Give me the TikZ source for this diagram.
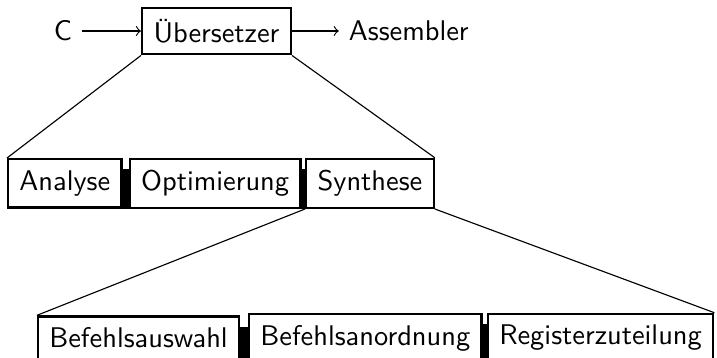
\documentclass[tikz,border=0pt]{standalone}
\usetikzlibrary{positioning}

\begin{document}
\begin{tikzpicture}[font=\sffamily,
    stage/.style={draw, thick, inner sep=4pt}]
    \def\W{252.2pt}
    \def\H{125.6pt}
    \useasboundingbox (0,0) rectangle (\W,-\H);

    % Uebersetzer mit Ein- und Ausgabe
    \node[stage] (ueb) at (76.15pt,-10.9pt) {Übersetzer};
    \node[left=20.75pt of ueb] (quelle) {C};
    \node[right=16.5pt of ueb] (ziel) {Assembler};
    \draw[->] (quelle) -- (ueb);
    \draw[->] (ueb) -- (ziel);

    % Phasen
    \node[stage, anchor=west] (ana) at (2.43pt,-64.5pt) {Analyse};
    \node[stage, right=2.1pt of ana] (opt) {Optimierung};
    \node[stage, right=1.2pt of opt] (syn) {Synthese};

    \draw (ueb.south west) -- (ana.north west);
    \draw (ueb.south east) -- (syn.north east);

    % Synthese im Detail
    \node[stage, anchor=west] (ausw) at (12.98pt,-118.9pt) {Befehlsauswahl};
    \node[stage, right=2.7pt of ausw] (anord) {Befehlsanordnung};
    \node[stage, right=1.4pt of anord] (reg) {Registerzuteilung};

    \draw (syn.south west) -- (ausw.north west);
    \draw (syn.south east) -- (reg.north east);

    % schwarze Stege zwischen den Kaesten
    \foreach \a/\b in {ana/opt, opt/syn, ausw/anord, anord/reg}
        \fill ([yshift=7.5pt]\a.base east) rectangle ([yshift=-6.5pt]\b.base west);
\end{tikzpicture}
\end{document}
